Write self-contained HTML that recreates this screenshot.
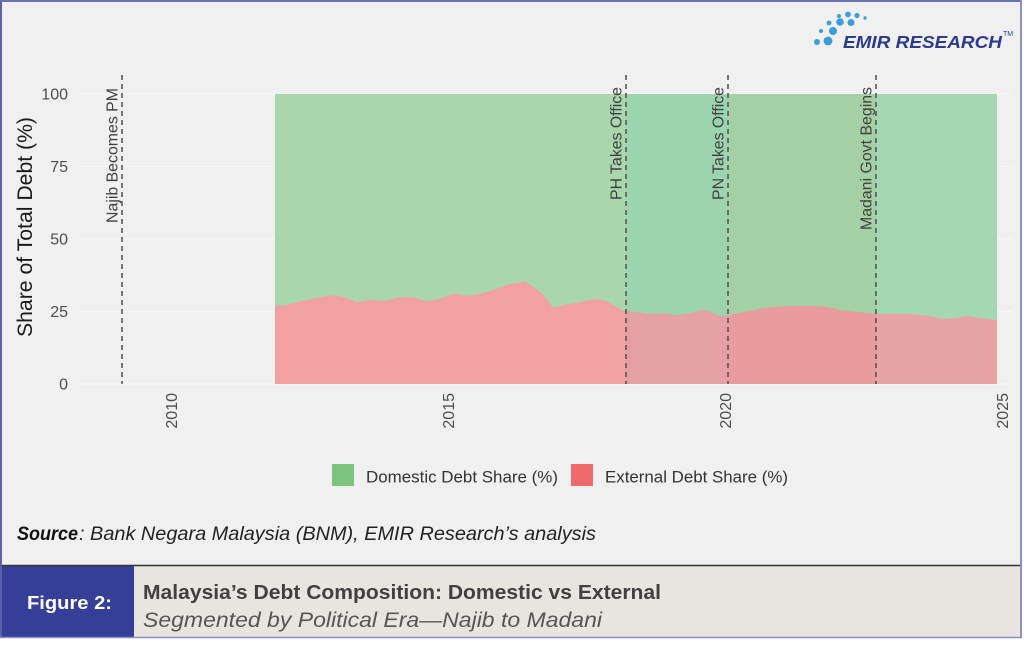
<!DOCTYPE html>
<html>
<head>
<meta charset="utf-8">
<style>
html,body{margin:0;padding:0;background:#ffffff;}
svg{display:block;}
text{font-family:"Liberation Sans", sans-serif;}
</style>
</head>
<body>
<svg width="1024" height="647" viewBox="0 0 1024 647" xmlns="http://www.w3.org/2000/svg">
  <defs>
    <clipPath id="cNajib"><rect x="270" y="80" width="356" height="310"/></clipPath>
    <clipPath id="cPH"><rect x="626" y="80" width="102" height="310"/></clipPath>
    <clipPath id="cPN"><rect x="728" y="80" width="148" height="310"/></clipPath>
    <clipPath id="cMad"><rect x="876" y="80" width="125" height="310"/></clipPath>
    <polygon id="ext" points="275,384 275,305.7 287,305 303,300.7 318,297.7 332,295.3 343,296.7 357,302.3 370,300 385,301 400,297.3 412,297.3 428,301 440,298.7 455,293.3 468,296 480,294 493,290 510,284 525,281.7 537,289.3 545,296.7 553,307.7 567,304.3 580,302.3 593,299.3 605,300.3 613,305 622,310.3 627,311 637,312.3 650,314 663,313.3 678,315.3 693,312.7 704,309.3 712,312.7 720,316 728,315.3 743,312.3 760,308.7 777,306.7 793,306 810,306 827,306.7 840,310 860,312.3 877,314.3 893,313.7 910,314 927,315.7 943,318.7 953,318.3 967,316 980,318 997,320 997,384"/>
  </defs>

  <!-- chart background -->
  <rect x="0" y="0" width="1022" height="566" fill="#f0f0f0"/>

  <!-- gridlines -->
  <g stroke="#f7f7f7" stroke-width="1">
    <line x1="80" y1="94" x2="1012" y2="94"/>
    <line x1="80" y1="166.5" x2="1012" y2="166.5"/>
    <line x1="80" y1="239" x2="1012" y2="239"/>
    <line x1="80" y1="311.5" x2="1012" y2="311.5"/>
    <line x1="80" y1="384" x2="1012" y2="384"/>
  </g>
  <g stroke="#f4f4f4" stroke-width="0.7">
    <line x1="80" y1="130.25" x2="1012" y2="130.25"/>
    <line x1="80" y1="202.75" x2="1012" y2="202.75"/>
    <line x1="80" y1="275.25" x2="1012" y2="275.25"/>
    <line x1="80" y1="347.75" x2="1012" y2="347.75"/>
  </g>

  <!-- areas per era -->
  <g clip-path="url(#cNajib)">
    <rect x="275" y="94" width="722" height="290" fill="#a9d6aa"/>
    <use href="#ext" fill="#f2a1a1"/>
  </g>
  <g clip-path="url(#cPH)">
    <rect x="275" y="94" width="722" height="290" fill="#9dd4b0"/>
    <use href="#ext" fill="#e4a0a4"/>
  </g>
  <g clip-path="url(#cPN)">
    <rect x="275" y="94" width="722" height="290" fill="#a3d0a5"/>
    <use href="#ext" fill="#e99b9d"/>
  </g>
  <g clip-path="url(#cMad)">
    <rect x="275" y="94" width="722" height="290" fill="#a3d8b3"/>
    <use href="#ext" fill="#eaa3a5"/>
  </g>

  <!-- dashed event lines -->
  <g stroke="#555555" stroke-width="1.6" stroke-dasharray="5,4">
    <line x1="122" y1="75" x2="122" y2="384"/>
    <line x1="626" y1="75" x2="626" y2="384"/>
    <line x1="728" y1="75" x2="728" y2="384"/>
    <line x1="876" y1="75" x2="876" y2="384"/>
  </g>

  <!-- event labels -->
  <g font-size="15.5" fill="#404040" text-anchor="end">
    <text transform="translate(117.5,88) rotate(-90)" textLength="135" lengthAdjust="spacingAndGlyphs">Najib Becomes PM</text>
    <text transform="translate(621.5,87) rotate(-90)" textLength="113" lengthAdjust="spacingAndGlyphs">PH Takes Office</text>
    <text transform="translate(723.5,87) rotate(-90)" textLength="113" lengthAdjust="spacingAndGlyphs">PN Takes Office</text>
    <text transform="translate(871.5,87) rotate(-90)" textLength="143" lengthAdjust="spacingAndGlyphs">Madani Govt Begins</text>
  </g>

  <!-- y tick labels -->
  <g font-size="16" fill="#4d4d4d" text-anchor="end">
    <text x="68" y="99.5">100</text>
    <text x="68" y="172">75</text>
    <text x="68" y="244.5">50</text>
    <text x="68" y="317">25</text>
    <text x="68" y="389.5">0</text>
  </g>

  <!-- x tick labels -->
  <g font-size="16" fill="#4d4d4d" text-anchor="end">
    <text transform="translate(177,393) rotate(-90)">2010</text>
    <text transform="translate(454,393) rotate(-90)">2015</text>
    <text transform="translate(731,393) rotate(-90)">2020</text>
    <text transform="translate(1008,393) rotate(-90)">2025</text>
  </g>

  <!-- y axis title -->
  <text transform="translate(32,227) rotate(-90)" font-size="21" fill="#1a1a1a" text-anchor="middle" textLength="220" lengthAdjust="spacingAndGlyphs">Share of Total Debt (%)</text>

  <!-- legend -->
  <rect x="332" y="464" width="22" height="22" fill="#7dc47f"/>
  <text x="366" y="482.5" font-size="16.5" fill="#333333" textLength="192" lengthAdjust="spacingAndGlyphs">Domestic Debt Share (%)</text>
  <rect x="571" y="464" width="22" height="22" fill="#ef6b6b"/>
  <text x="605" y="482.5" font-size="16.5" fill="#333333" textLength="183" lengthAdjust="spacingAndGlyphs">External Debt Share (%)</text>

  <!-- source -->
  <text x="17" y="540" font-size="19" font-weight="bold" font-style="italic" fill="#111111" textLength="61" lengthAdjust="spacingAndGlyphs">Source</text>
  <text x="79" y="540" font-size="19" font-style="italic" fill="#222222" textLength="517" lengthAdjust="spacingAndGlyphs">: Bank Negara Malaysia (BNM), EMIR Research’s analysis</text>

  <!-- logo -->
  <g fill="#3a9fd8">
    <circle cx="839" cy="16" r="2"/>
    <circle cx="848" cy="14.5" r="2.9"/>
    <circle cx="857" cy="15.5" r="2.6"/>
    <circle cx="865" cy="18" r="1.7"/>
    <circle cx="829" cy="23" r="2.4"/>
    <circle cx="840" cy="22" r="3.8"/>
    <circle cx="851" cy="22.5" r="3.5"/>
    <circle cx="821" cy="31" r="2"/>
    <circle cx="833" cy="31" r="4"/>
    <circle cx="817" cy="42" r="3"/>
    <circle cx="828" cy="41" r="4.4"/>
  </g>
  <text x="843" y="48" font-size="17.5" font-weight="bold" font-style="italic" fill="#2e3a8c" textLength="159" lengthAdjust="spacingAndGlyphs">EMIR RESEARCH</text>
  <text x="1003" y="36" font-size="7" fill="#2e3a8c">TM</text>

  <!-- caption band -->
  <rect x="0" y="566" width="134" height="71" fill="#353f97"/>
  <rect x="134" y="566" width="887" height="71" fill="#e8e5e0"/>
  <line x1="0" y1="565.5" x2="1022" y2="565.5" stroke="#333333" stroke-width="1.6"/>
  <text x="27" y="609" font-size="18" font-weight="bold" fill="#ffffff" textLength="85" lengthAdjust="spacingAndGlyphs">Figure 2:</text>
  <text x="143" y="599" font-size="20.5" font-weight="bold" fill="#404040" textLength="518" lengthAdjust="spacingAndGlyphs">Malaysia’s Debt Composition: Domestic vs External</text>
  <text x="143" y="627" font-size="21" font-style="italic" fill="#555555" textLength="459" lengthAdjust="spacingAndGlyphs">Segmented by Political Era—Najib to Madani</text>

  <!-- frame borders -->
  <line x1="1" y1="0" x2="1" y2="637" stroke="#5b60a8" stroke-width="2"/>
  <line x1="0" y1="1" x2="1022" y2="1" stroke="#6b70b0" stroke-width="2"/>
  <line x1="1021" y1="0" x2="1021" y2="637.5" stroke="#8b8fc4" stroke-width="2"/>
  <line x1="0" y1="637.5" x2="1022" y2="637.5" stroke="#8b8fc4" stroke-width="1.5"/>
</svg>
</body>
</html>
